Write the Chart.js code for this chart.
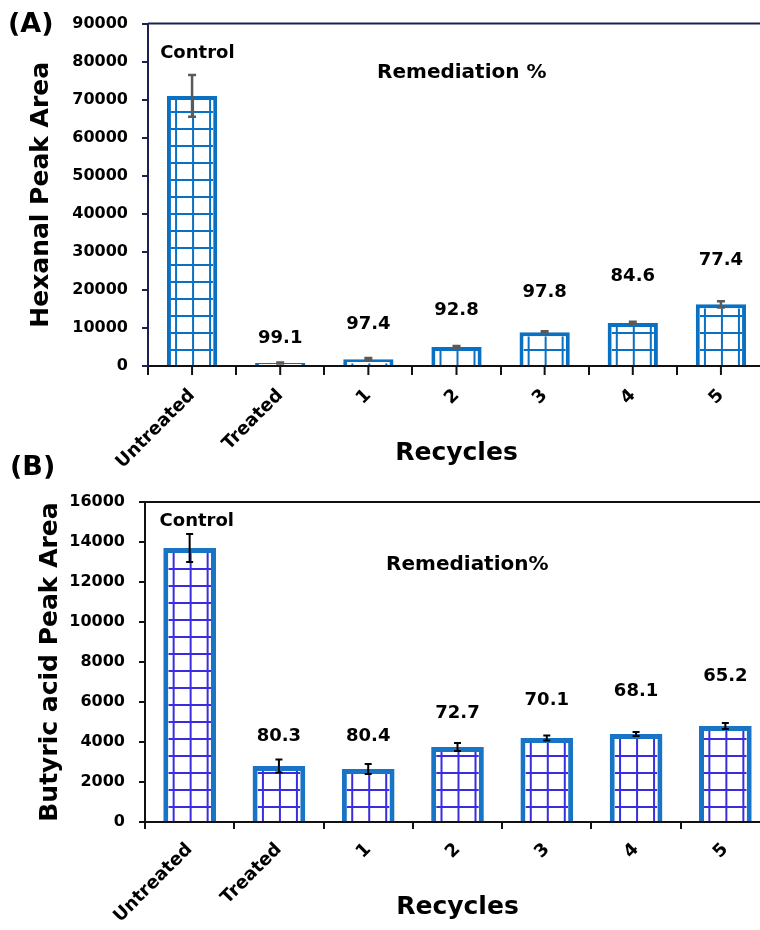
<!DOCTYPE html>
<html>
<head>
<meta charset="utf-8">
<script src="https://cdn.jsdelivr.net/npm/chart.js@4.4.0/dist/chart.umd.min.js"></script>
<style>
  html, body { margin: 0; padding: 0; background: #fff; overflow: hidden; }
  #wrap { position: relative; width: 760px; height: 930px; overflow: hidden; }
  #wrap canvas { position: absolute; left: 0; top: 0; }
</style>
</head>
<body>
<div id="wrap">
  <canvas id="chartA" width="770" height="930"></canvas>
  <canvas id="chartB" width="770" height="930"></canvas>
</div>
<script>
// categories shared by both panels
const categories = ['Untreated', 'Treated', '1', '2', '3', '4', '5'];

// (A) hexanal
const hexanalArea = [71000, 800, 1800, 5000, 8900, 11300, 16200];
const hexanalErr = [5500, 150, 300, 250, 250, 300, 800];
const hexanalRemediation = [null, '99.1', '97.4', '92.8', '97.8', '84.6', '77.4'];
const hexanalTicks = [0, 10000, 20000, 30000, 40000, 50000, 60000, 70000, 80000, 90000];

// (B) butyric acid
const butyricArea = [13700, 2800, 2650, 3750, 4200, 4400, 4800];
const butyricErr = [700, 330, 250, 200, 120, 100, 150];
const butyricRemediation = [null, '80.3', '80.4', '72.7', '70.1', '68.1', '65.2'];
const butyricTicks = [0, 2000, 4000, 6000, 8000, 10000, 12000, 14000, 16000];

// where the remediation numbers sit (in y units of each panel)
const hexanalLabelY = [null, 7350, 11000, 14700, 19400, 23600, 27800];
const butyricLabelY = [null, 4300, 4300, 5450, 6100, 6550, 7300];

const FONT = '"DejaVu Sans", "Liberation Sans", Arial, sans-serif';
Chart.defaults.font.family = FONT;
Chart.defaults.color = '#000';

function decor(o) {
  return {
    id: 'decor_' + o.tag,
    afterDatasetsDraw(chart) {
      const ctx = chart.ctx;
      const ys = chart.scales.y;
      const meta = chart.getDatasetMeta(0);

      // grid pattern inside every bar
      ctx.save();
      meta.data.forEach(el => {
        const p = el.getProps(['x', 'y', 'base', 'width'], true);
        const bw = o.border;
        const l = p.x - p.width / 2 + bw, r = p.x + p.width / 2 - bw;
        const t = p.y + bw, b = p.base;
        if (b - t < 1) return;
        ctx.save();
        ctx.beginPath();
        ctx.rect(l, t, r - l, b - t);
        ctx.clip();
        ctx.strokeStyle = o.gridColor;
        ctx.lineWidth = 2;
        ctx.beginPath();
        for (let k = -1; k <= 1; k++) {
          const gx = p.x + 1 + k * o.cell;
          ctx.moveTo(gx, t); ctx.lineTo(gx, b);
        }
        for (let gy = b - o.firstRow; gy > t; gy -= o.cell) {
          ctx.moveTo(l, gy); ctx.lineTo(r, gy);
        }
        ctx.stroke();
        ctx.restore();
      });
      ctx.restore();

      // error bars
      ctx.save();
      ctx.strokeStyle = o.errColor;
      ctx.lineWidth = o.errWidth;
      meta.data.forEach((el, i) => {
        const v = o.values[i], e = o.err[i];
        const x = el.x;
        const y1 = ys.getPixelForValue(v + e), y2 = ys.getPixelForValue(v - e);
        ctx.beginPath();
        ctx.moveTo(x, y1); ctx.lineTo(x, y2);
        ctx.moveTo(x - o.cap, y1); ctx.lineTo(x + o.cap, y1);
        ctx.moveTo(x - o.cap, y2); ctx.lineTo(x + o.cap, y2);
        ctx.stroke();
      });
      ctx.restore();
    },
    afterDraw(chart) {
      const ctx = chart.ctx;
      const xs = chart.scales.x, ys = chart.scales.y;
      const area = chart.chartArea;
      ctx.save();
      // top frame line
      ctx.strokeStyle = o.frameColor;
      ctx.lineWidth = 2;
      ctx.beginPath();
      ctx.moveTo(area.left, area.top); ctx.lineTo(area.right + 10, area.top);
      ctx.stroke();

      // extra tick marks at the category centres
      if (o.centreTicks) {
        ctx.strokeStyle = '#111';
        ctx.lineWidth = 2;
        ctx.beginPath();
        categories.forEach((c, i) => {
          const x = xs.getPixelForValue(i);
          ctx.moveTo(x, area.bottom); ctx.lineTo(x, area.bottom + 9);
        });
        ctx.stroke();
      }

      // remediation numbers and notes
      ctx.fillStyle = '#000';
      ctx.textAlign = 'center';
      ctx.textBaseline = 'middle';
      ctx.font = 'bold 18px ' + FONT;
      o.labels.forEach((t, i) => {
        if (!t) return;
        ctx.fillText(t, xs.getPixelForValue(i), ys.getPixelForValue(o.labelY[i]));
      });
      ctx.fillText('Control', xs.getPixelForValue(o.control[0]), ys.getPixelForValue(o.control[1]));
      ctx.font = 'bold 20px ' + FONT;
      ctx.fillText(o.remText, xs.getPixelForValue(o.rem[0]), ys.getPixelForValue(o.rem[1]));

      // panel letter
      ctx.textAlign = 'left';
      ctx.font = 'bold 27px ' + FONT;
      ctx.fillText(o.panel, o.panelPos[0], o.panelPos[1]);
      ctx.restore();
    }
  };
}

function makeChart(id, cfg) {
  return new Chart(document.getElementById(id), {
    type: 'bar',
    data: {
      labels: categories,
      datasets: [{
        data: cfg.values,
        backgroundColor: '#ffffff',
        borderColor: cfg.borderColor,
        borderWidth: cfg.border,
        categoryPercentage: 1,
        barPercentage: cfg.barPct
      }]
    },
    options: {
      responsive: false,
      animation: false,
      events: [],
      layout: { padding: cfg.padding },
      plugins: { legend: { display: false }, tooltip: { enabled: false } },
      scales: {
        x: {
          offset: true,
          grid: { offset: true, drawOnChartArea: false, tickLength: cfg.xTickLen, color: '#111', lineWidth: 2 },
          border: { color: '#111', width: 2 },
          ticks: { minRotation: 45, maxRotation: 45, padding: 10, color: '#000', font: { size: 18, weight: 'bold' } },
          title: { display: true, text: 'Recycles', color: '#000', font: { size: 25, weight: 'bold' }, padding: 0 },
          afterFit: s => { s.height = cfg.xHeight; }
        },
        y: {
          min: 0,
          max: cfg.ticks[cfg.ticks.length - 1],
          afterBuildTicks: s => { s.ticks = cfg.ticks.map(v => ({ value: v })); },
          grid: { drawOnChartArea: false, tickLength: 6, color: cfg.axisColor, lineWidth: 2 },
          border: { color: cfg.axisColor, width: 2 },
          ticks: { padding: 14, color: '#000', font: { size: 16, weight: 'bold' }, callback: v => String(v) },
          title: { display: true, text: cfg.yTitle, color: '#000', font: { size: 25, weight: 'bold' }, padding: { top: cfg.yTitlePad, bottom: 0 } },
          afterFit: s => { s.width = cfg.yWidth; }
        }
      }
    },
    plugins: [decor(cfg.decor)]
  });
}

makeChart('chartA', {
  values: hexanalArea,
  ticks: hexanalTicks,
  borderColor: '#0a70c2',
  border: 4,
  barPct: 0.57,
  padding: { left: 0, right: 5, top: 23, bottom: 462 },
  xTickLen: 9,
  xHeight: 102,
  yWidth: 148,
  yTitle: 'Hexanal Peak Area',
  yTitlePad: 26,
  axisColor: '#1c2250',
  decor: {
    tag: 'A', values: hexanalArea, err: hexanalErr, border: 4, cell: 17, firstRow: 15,
    gridColor: '#0a70c2', errColor: '#5a5a5a', errWidth: 2.5, cap: 4,
    labels: hexanalRemediation, labelY: hexanalLabelY,
    control: [0.06, 82100], rem: [3.06, 77100], remText: 'Remediation %',
    frameColor: '#1c2250', centreTicks: true, panel: '(A)', panelPos: [8, 25]
  }
});

makeChart('chartB', {
  values: butyricArea,
  ticks: butyricTicks,
  borderColor: '#1a74c6',
  border: 5,
  barPct: 0.59,
  padding: { left: 0, right: 0, top: 502, bottom: 8 },
  xTickLen: 7,
  xHeight: 100,
  yWidth: 145,
  yTitle: 'Butyric acid Peak Area',
  yTitlePad: 35,
  axisColor: '#111',
  decor: {
    tag: 'B', values: butyricArea, err: butyricErr, border: 5, cell: 17, firstRow: 14,
    gridColor: '#3a2de0', errColor: '#000', errWidth: 2, cap: 3.5,
    labels: butyricRemediation, labelY: butyricLabelY,
    control: [0.08, 15050], rem: [3.11, 12875], remText: 'Remediation%',
    frameColor: '#111', centreTicks: false, panel: '(B)', panelPos: [10, 468]
  }
});
</script>
</body>
</html>
